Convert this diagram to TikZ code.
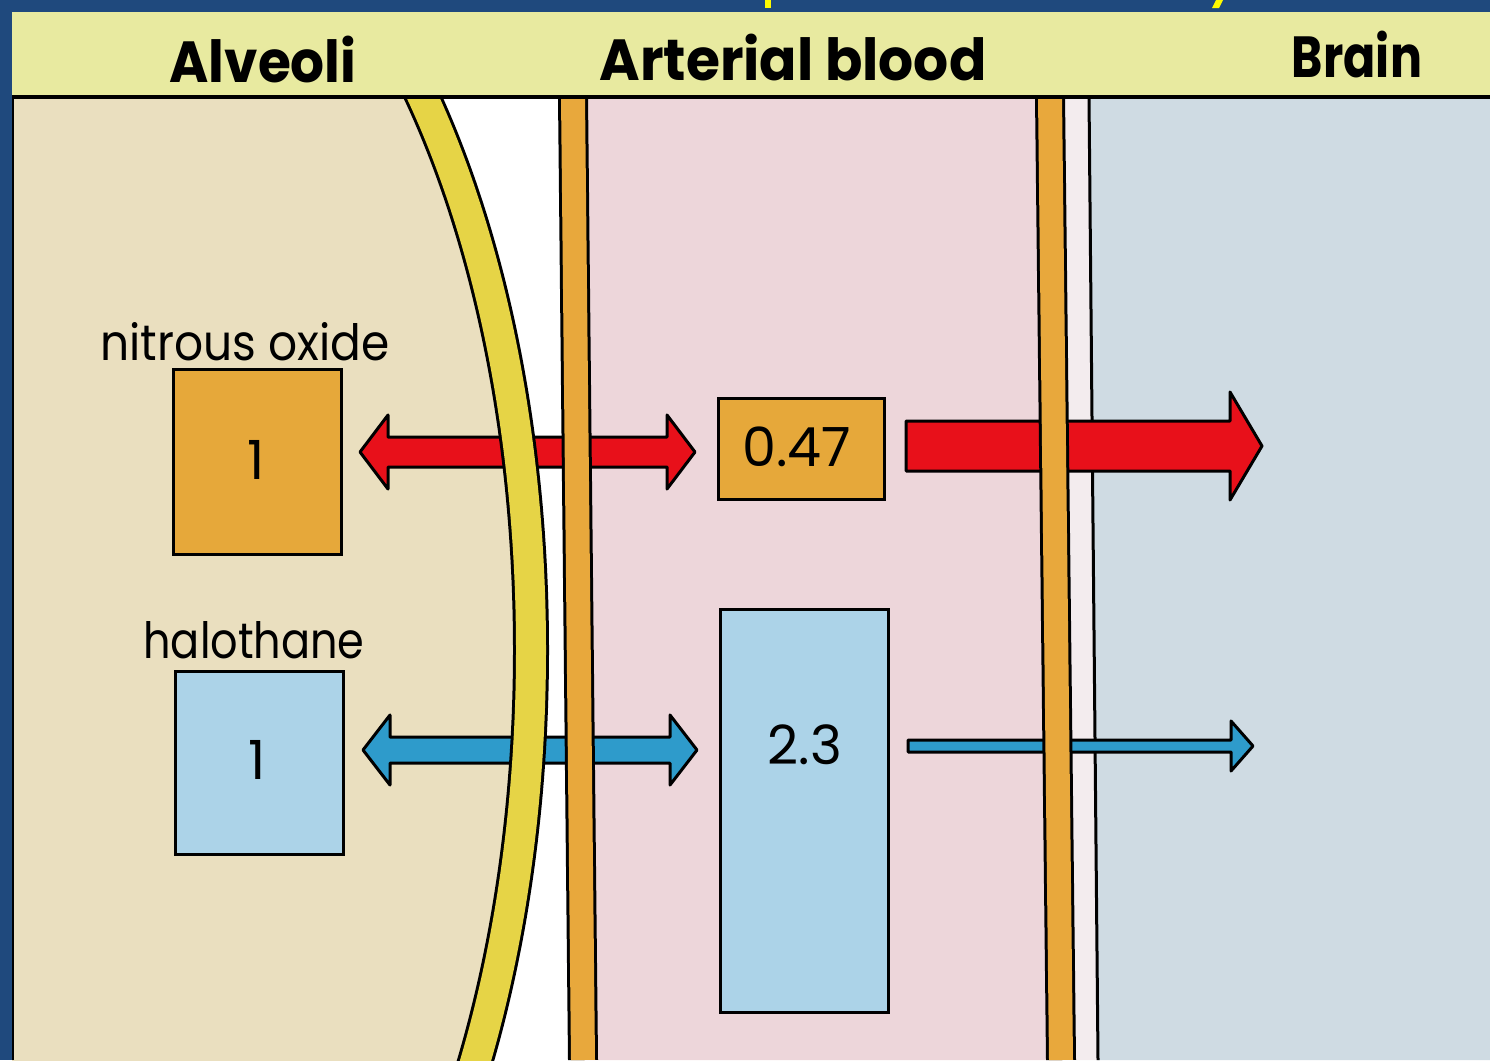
\documentclass[tikz,border=0pt]{standalone}
\usepackage{fontspec}
\setmainfont{Poppins}
\usetikzlibrary{calc}
\definecolor{bgblue}{RGB}{31,73,125}
\definecolor{hdryellow}{RGB}{232,234,160}
\definecolor{alvbeige}{RGB}{234,223,191}
\definecolor{bandyellow}{RGB}{230,212,70}
\definecolor{barorange}{RGB}{232,168,60}
\definecolor{bloodpink}{RGB}{237,214,218}
\definecolor{striplight}{RGB}{243,236,238}
\definecolor{brainblue}{RGB}{207,219,227}
\definecolor{boxorange}{RGB}{230,168,58}
\definecolor{boxblue}{RGB}{172,211,232}
\definecolor{arrred}{RGB}{232,16,26}
\definecolor{arrblue}{RGB}{46,155,203}
\definecolor{titleyellow}{RGB}{255,250,0}
\newcommand\fatdbl[6]{%
  \draw[arrowline, fill=#6] (#1) -- ($(#1)+(#3,-#4)$) -- ($(#1)+(#3,-#5)$)
    -- ($(#2)+(-#3,-#5)$) -- ($(#2)+(-#3,-#4)$) -- (#2) -- ($(#2)+(-#3,#4)$)
    -- ($(#2)+(-#3,#5)$) -- ($(#1)+(#3,#5)$) -- ($(#1)+(#3,#4)$) -- cycle;}
\newcommand\fatsgl[6]{%
  \draw[arrowline, fill=#6] ($(#1)+(0,-#5)$) -- ($(#2)+(-#3,-#5)$) -- ($(#2)+(-#3,-#4)$)
    -- (#2) -- ($(#2)+(-#3,#4)$) -- ($(#2)+(-#3,#5)$) -- ($(#1)+(0,#5)$) -- cycle;}
\newcommand\hsq[2]{\scalebox{#1}[1]{#2}}
\tikzset{
  arrowline/.style={draw=black, line width=3, line join=round},
  hdr/.style={font=\fontsize{58}{60}\selectfont\bfseries, inner sep=0, anchor=base},
  lbl/.style={font=\fontsize{50}{52}\selectfont, inner sep=0},
  num/.style={font=\fontsize{54}{56}\selectfont, inner sep=0},
  valbox/.style={draw=black, line width=3, inner sep=0},
}
\begin{document}
\begin{tikzpicture}[x=1pt,y=-1pt]
\useasboundingbox (0,0) rectangle (1490,1060);
\fill[bgblue] (0,0) rectangle (1490,1060);
% title fragments
\fill[titleyellow] (765,0) rectangle (771,8);
\fill[titleyellow] (1212,8) -- (1216,0) -- (1223,0) -- (1219,8) -- cycle;
% regions
\fill[white] (12,97) rectangle (1490,1060);
\fill[bloodpink] (573,97) -- (1050,97) -- (1061,1060) -- (583,1060) -- cycle;
\fill[striplight] (1050,97) -- (1089,97) -- (1098,1060) -- (1061,1060) -- cycle;
\fill[brainblue] (1089,97) -- (1490,97) -- (1490,1060) -- (1098,1060) -- cycle;
\draw[line width=3] (1089,97) -- (1098,1060);
\begin{scope}
  \clip (12,97) rectangle (1490,1060);
  \fill[alvbeige] (121,650) ellipse [x radius=410pt, y radius=817pt];
\end{scope}
\draw[line width=2.5] (13,97) -- (13,1060);
% arrow end points
\coordinate (rL) at (360,452);
\coordinate (rR) at (695,452);
\coordinate (rT) at (906,446);
\coordinate (rH) at (1262,446);
\coordinate (bL) at (363,750);
\coordinate (bR) at (697,750);
\coordinate (bT) at (908,746);
\coordinate (bH) at (1253,746);
\fatdbl{rL}{rR}{28}{37}{15}{arrred}
\fatsgl{rT}{rH}{32}{54}{25}{arrred}
\fatdbl{bL}{bR}{27}{35}{13}{arrblue}
\fatsgl{bT}{bH}{22}{25}{6}{arrblue}
% membranes
\begin{scope}
  \clip (12,97) rectangle (1490,1060);
  \draw[line width=36] (121,650) ellipse [x radius=410pt, y radius=817pt];
  \draw[line width=30, bandyellow] (121,650) ellipse [x radius=410pt, y radius=817pt];
\end{scope}
\draw[line width=30] (573,97) -- (583,1060);
\draw[line width=24, barorange] (573,97) -- (583,1060);
\draw[line width=30] (1050,97) -- (1061,1060);
\draw[line width=24, barorange] (1050,97) -- (1061,1060);
% header
\fill[hdryellow] (12,12) rectangle (1490,97);
\draw[line width=4] (12,97) -- (1490,97);
\node[hdr] (halv) at (263,82) {\hsq{0.92}{Alveoli}};
\node[hdr] (hart) at (793,80) {\hsq{0.95}{Arterial blood}};
\node[hdr] (hbr) at (1357,77) {\hsq{0.82}{Brain}};
% boxes
\node[lbl] (ln2o) at (245,342) {\hsq{0.91}{nitrous oxide}};
\node[valbox, fill=boxorange, minimum width=168, minimum height=185] (n2o) at (257,462) {};
\node[num] (n2oval) at (256,460) {1};
\node[lbl] (lhal) at (254,640) {\hsq{0.86}{halothane}};
\node[valbox, fill=boxblue, minimum width=168, minimum height=183] (hal) at (259,763) {};
\node[num] (halval) at (257,760) {1};
\node[valbox, fill=boxorange, minimum width=166, minimum height=101] (bn2o) at (801,449) {};
\node[num] (bn2oval) at (797,447) {0.47};
\node[valbox, fill=boxblue, minimum width=168, minimum height=403] (bhal) at (804,811) {};
\node[num] (bhalval) at (805,745) {2.3};
\end{tikzpicture}
\end{document}
